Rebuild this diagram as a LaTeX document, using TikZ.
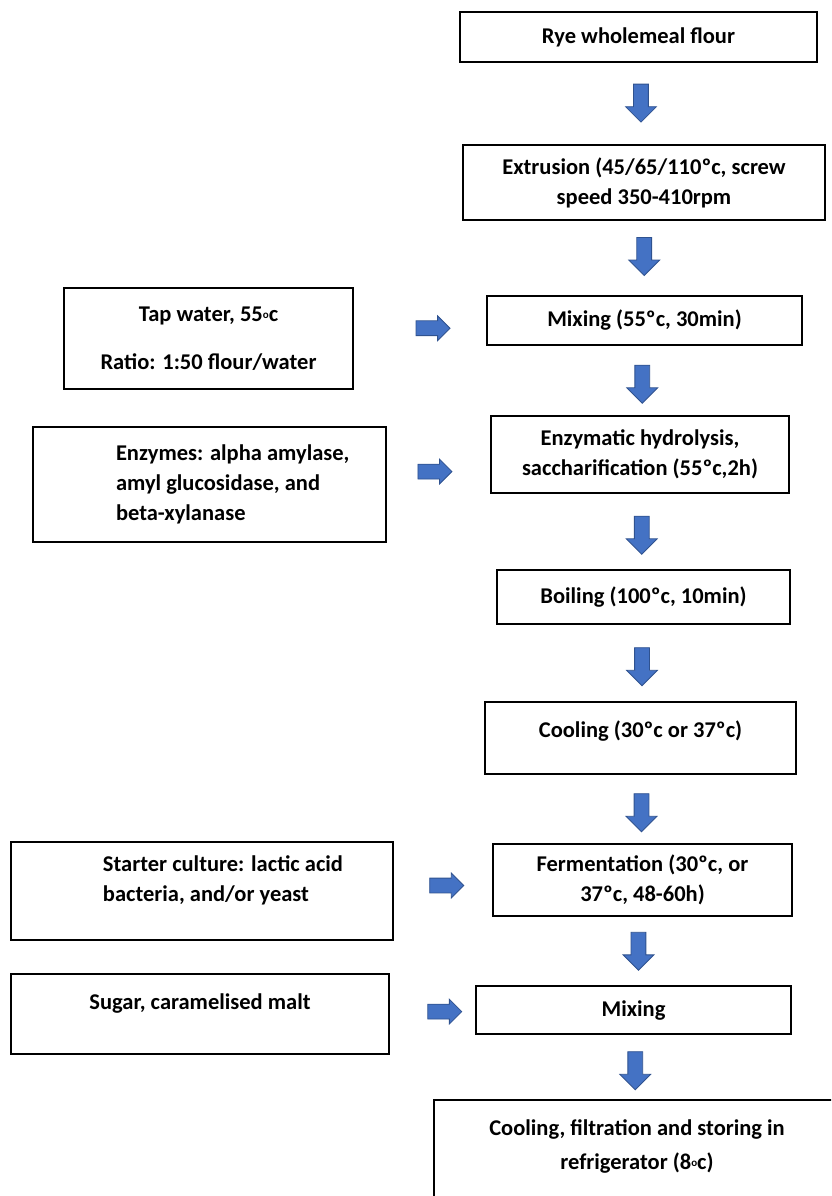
\documentclass[tikz,border=0pt]{standalone}
\usepackage{fontspec}
\setmainfont{Carlito}
\usetikzlibrary{shapes.arrows, calc}
\definecolor{arrowblue}{HTML}{4472C4}
\definecolor{arrowedge}{HTML}{2F528F}
\newcommand{\smalldeg}{\raisebox{3pt}{\fontsize{11}{11}\selectfont o}}
\tikzset{%
	stage/.style={draw, rectangle, line width=1.2pt, inner sep=0pt, align=flush center,%
		font=\fontsize{22.5}{30}\selectfont\bfseries},
	flowdown/.style={single arrow, draw=arrowedge, fill=arrowblue, line width=0.8pt,%
		inner sep=7pt, minimum height=38pt, single arrow head extend=8pt,%
		shape border rotate=270},
	flowright/.style={single arrow, draw=arrowedge, fill=arrowblue, line width=0.8pt,%
		inner sep=7pt, minimum height=34pt, single arrow head extend=5pt}
}
\begin{document}
\begin{tikzpicture}[x=1pt, y=-1pt]
	\useasboundingbox (0,0) rectangle (831,1196);
	\clip (0,0) rectangle (831,1196);

	% process steps
	\node[stage, minimum width=357pt, minimum height=50pt] (rye) at (638.5,37) {Rye wholemeal flour};
	\node[stage, minimum width=362pt, minimum height=75pt, text width=362pt] (extr) at (644,182.5)
		{Extrusion (45/65/110ºc, screw\\ speed 350-410rpm};
	\node[stage, minimum width=315pt, minimum height=49pt] (mix1) at (644.5,320.5) {Mixing (55ºc, 30min)};
	\node[stage, minimum width=298pt, minimum height=77pt, text width=298pt] (hydro) at (640,454.5)
		{Enzymatic hydrolysis,\\ saccharification (55ºc,2h)};
	\node[stage, minimum width=293pt, minimum height=54pt] (boil) at (643.5,597) {Boiling (100ºc, 10min)};
	\node[stage, minimum width=311pt, minimum height=72pt, text height=15pt, text depth=17pt] (cool)
		at (640.5,738) {Cooling (30ºc or 37ºc)};
	\node[stage, minimum width=299pt, minimum height=72pt, text width=299pt] (ferm) at (642.5,880)
		{Fermentation (30ºc, or\\ 37ºc, 48-60h)};
	\node[stage, minimum width=315pt, minimum height=48pt] (mix2) at (633.5,1010) {Mixing};
	\node[stage, minimum width=406pt, minimum height=140pt, text width=406pt, text height=15pt,%
		text depth=85pt] (final) at (637,1170)
		{Cooling, filtration and storing in\\[4pt] refrigerator (8\smalldeg c)};

	% inputs
	\node[stage, minimum width=289pt, minimum height=101pt, text width=289pt] (tap) at (208.5,338.5)
		{Tap water, 55\smalldeg c\\[18pt] Ratio: 1:50 flour/water};
	\node[stage, minimum width=353pt, minimum height=115pt, text width=353pt, align=flush left] (enz)
		at (209.5,484.5)
		{\hspace*{83pt}Enzymes: alpha amylase,\\ \hspace*{83pt}amyl glucosidase, and\\
		\hspace*{83pt}beta-xylanase};
	\node[stage, minimum width=382pt, minimum height=98pt, text width=382pt, align=flush left,%
		text height=15pt, text depth=55pt] (starter) at (202,891)
		{\hspace*{92pt}Starter culture: lactic acid\\ \hspace*{92pt}bacteria, and/or yeast};
	\node[stage, minimum width=378pt, minimum height=80pt, text height=15pt, text depth=25pt] (sugar)
		at (200,1014) {Sugar, caramelised malt};

	% block arrows
	\foreach \a/\b/\f in {rye/extr/0.45, extr/mix1/0.43, mix1/hydro/0.5, hydro/boil/0.5,%
		boil/cool/0.5, cool/ferm/0.5, ferm/mix2/0.45, mix2/final/0.5}
		\node[flowdown] (to-\b) at ($(\a.south)!\f!(\b.north)$) {};
	\foreach \a/\b/\f in {tap/mix1/0.57, enz/hydro/0.43, starter/ferm/0.5, sugar/mix2/0.6}
		\node[flowright] (in-\a) at ($(\a.east)!\f!(\b.west)$) {};
\end{tikzpicture}
\end{document}
